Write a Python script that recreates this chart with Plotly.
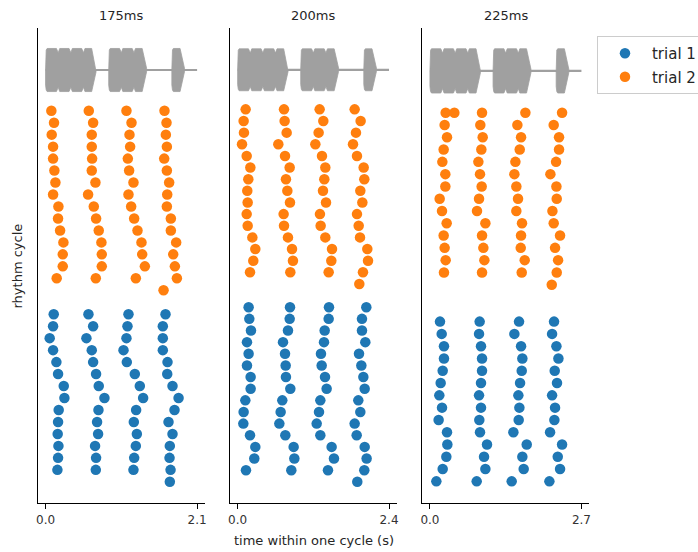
import plotly.graph_objects as go

# ---------------- data ----------------
periods = [2.1, 2.4, 2.7]                # cycle length (s)
titles = ["175ms", "200ms", "225ms"]
tick_labels = [["0.0", "2.1"], ["0.0", "2.4"], ["0.0", "2.7"]]
n_slots = 12
note_slots = [0, 1, 2, 3, 5, 6, 7, 10]   # slots containing a sound
trial1_row_offset = 17                   # trial 1 rows start below trial 2 rows

# tap times (s) within a cycle; each list = one tap column, index = cycle row
t2_175 = [
    [0.080, 0.117, 0.085, 0.104, 0.104, 0.122, 0.136, 0.104, 0.178, 0.173, 0.201, 0.247, 0.238, 0.238, 0.154],
    [0.599, 0.659, 0.640, 0.640, 0.645, 0.640, 0.691, 0.589, 0.668, 0.700, 0.737, 0.774, 0.779, 0.779, 0.696],
    [1.121, 1.191, 1.163, 1.172, 1.140, 1.158, 1.218, 1.149, 1.186, 1.228, 1.274, 1.329, 1.339, 1.376, 1.251],
    [1.648, 1.676, 1.667, 1.681, 1.644, 1.681, 1.713, 1.686, 1.681, 1.736, 1.736, 1.810, 1.769, 1.792, 1.820, 1.635],
]
t1_175 = [
    [0.113, 0.104, 0.057, 0.104, 0.150, 0.173, 0.252, 0.261, 0.182, 0.173, 0.168, 0.178, 0.173, 0.164],
    [0.594, 0.659, 0.566, 0.640, 0.659, 0.700, 0.737, 0.816, 0.733, 0.714, 0.728, 0.686, 0.700, 0.696],
    [1.149, 1.135, 1.121, 1.080, 1.126, 1.237, 1.306, 1.352, 1.255, 1.223, 1.265, 1.251, 1.228, 1.218],
    [1.662, 1.625, 1.625, 1.625, 1.690, 1.686, 1.759, 1.843, 1.787, 1.704, 1.759, 1.722, 1.718, 1.732, 1.722],
]
t2_200 = [
    [0.127, 0.095, 0.100, 0.069, 0.143, 0.201, 0.169, 0.153, 0.159, 0.143, 0.159, 0.233, 0.280, 0.248, 0.196],
    [0.735, 0.745, 0.777, 0.645, 0.751, 0.825, 0.766, 0.788, 0.830, 0.729, 0.735, 0.798, 0.862, 0.877, 0.835],
    [1.300, 1.358, 1.284, 1.232, 1.337, 1.390, 1.374, 1.353, 1.401, 1.305, 1.316, 1.390, 1.496, 1.485, 1.443],
    [1.855, 1.950, 1.876, 1.829, 1.892, 1.998, 2.008, 1.945, 1.977, 1.892, 1.919, 1.940, 2.056, 2.067, 1.987, 1.929],
]
t1_200 = [
    [0.174, 0.185, 0.211, 0.148, 0.174, 0.148, 0.206, 0.206, 0.122, 0.095, 0.090, 0.196, 0.280, 0.264, 0.132],
    [0.830, 0.825, 0.798, 0.719, 0.751, 0.761, 0.766, 0.835, 0.708, 0.682, 0.661, 0.756, 0.888, 0.899, 0.851],
    [1.448, 1.443, 1.380, 1.369, 1.321, 1.332, 1.385, 1.411, 1.311, 1.290, 1.253, 1.311, 1.490, 1.527, 1.432],
    [2.040, 1.971, 1.971, 2.024, 1.924, 1.961, 1.993, 2.014, 1.913, 1.945, 1.855, 1.887, 2.014, 2.045, 2.008, 1.897],
]
t2_225 = [
    [0.280, 0.262, 0.304, 0.244, 0.221, 0.274, 0.274, 0.173, 0.215, 0.298, 0.244, 0.262, 0.280, 0.250],
    [0.928, 0.898, 0.940, 0.916, 0.863, 0.892, 0.922, 0.875, 0.839, 0.988, 0.928, 0.952, 0.970, 0.928],
    [1.701, 1.558, 1.624, 1.600, 1.523, 1.505, 1.540, 1.570, 1.540, 1.641, 1.624, 1.618, 1.689, 1.636],
    [2.355, 2.206, 2.301, 2.301, 2.248, 2.147, 2.254, 2.260, 2.183, 2.206, 2.319, 2.230, 2.284, 2.260, 2.171],
    [0.435],
]
t1_225 = [
    [0.179, 0.209, 0.250, 0.250, 0.227, 0.191, 0.167, 0.215, 0.155, 0.304, 0.310, 0.292, 0.227, 0.114],
    [0.886, 0.875, 0.910, 0.928, 0.928, 0.910, 0.875, 0.910, 0.880, 0.892, 1.017, 0.964, 0.988, 0.833],
    [1.588, 1.505, 1.624, 1.647, 1.636, 1.606, 1.576, 1.594, 1.582, 1.487, 1.725, 1.647, 1.671, 1.457],
    [2.212, 2.177, 2.254, 2.290, 2.224, 2.265, 2.177, 2.230, 2.218, 2.141, 2.355, 2.278, 2.319, 2.129],
]
trial1 = [t1_175, t1_200, t1_225]
trial2 = [t2_175, t2_200, t2_225]

# ---------------- style ----------------
BLUE = "#1f77b4"
ORANGE = "#ff7f0e"
GRAY = "#a0a0a0"
TXT = "#262626"
FONT = "DejaVu Sans"
wave_center = -3.4
wave_amp = 1.8
y_ranges = [[32.77, -6.91], [33.82, -6.99], [31.76, -6.89]]
x_domains = [[0.0, 0.3025], [0.3486, 0.6508], [0.6976, 1.0]]


def columns_to_xy(cols, offset):
    xs, ys = [], []
    for col in cols:
        for r, v in enumerate(col):
            xs.append(v)
            ys.append(r + offset)
    return xs, ys


def slot_groups(slots):
    groups = []
    for s in sorted(slots):
        if groups and s == groups[-1][-1] + 1:
            groups[-1].append(s)
        else:
            groups.append([s])
    return groups


def group_outline(group, dt):
    top = []
    n = len(group)
    for j, s in enumerate(group):
        t0 = s * dt
        first, last = j == 0, j == n - 1
        if first:
            prof = [(0.0, 0.0), (0.0, 0.7), (0.05, 0.93), (0.12, 1.0)]
        else:
            prof = [(0.0, 0.8), (0.12, 1.0)]
        if last:
            prof += [(0.65, 1.0), (1.0, 0.08), (1.0, 0.0)]
        else:
            prof += [(0.86, 1.0), (1.0, 0.8)]
        top += [(t0 + u * dt, a) for u, a in prof]
    xs = [p[0] for p in top] + [p[0] for p in reversed(top)]
    ys = [wave_center - a * wave_amp for _, a in top] + \
         [wave_center + a * wave_amp for _, a in reversed(top)]
    return xs, ys


fig = go.Figure()

for i, T in enumerate(periods):
    xa = "x" if i == 0 else f"x{i+1}"
    ya = "y" if i == 0 else f"y{i+1}"
    dt = T / n_slots
    # silence line
    fig.add_trace(go.Scatter(x=[0, T], y=[wave_center, wave_center], mode="lines",
                             line=dict(color=GRAY, width=2.2), xaxis=xa, yaxis=ya,
                             showlegend=False, hoverinfo="skip"))
    for g in slot_groups(note_slots):
        gx, gy = group_outline(g, dt)
        fig.add_trace(go.Scatter(x=gx, y=gy, mode="lines", fill="toself",
                                 fillcolor=GRAY, line=dict(color=GRAY, width=0.8),
                                 xaxis=xa, yaxis=ya, showlegend=False, hoverinfo="skip"))
    bx, by = columns_to_xy(trial1[i], trial1_row_offset)
    fig.add_trace(go.Scatter(x=bx, y=by, mode="markers", name="trial 1",
                             marker=dict(color=BLUE, size=10.5, line=dict(width=0)),
                             xaxis=xa, yaxis=ya, showlegend=(i == 0), legendgroup="t1"))
    ox, oy = columns_to_xy(trial2[i], 0)
    fig.add_trace(go.Scatter(x=ox, y=oy, mode="markers", name="trial 2",
                             marker=dict(color=ORANGE, size=10.5, line=dict(width=0)),
                             xaxis=xa, yaxis=ya, showlegend=(i == 0), legendgroup="t2"))

layout = dict(
    width=698, height=552,
    paper_bgcolor="white", plot_bgcolor="white",
    margin=dict(l=38, r=109, t=28, b=49, autoexpand=False),
    font=dict(family=FONT, color=TXT, size=12),
    showlegend=True,
    legend=dict(x=1.0145, y=0.983, xanchor="left", yanchor="top",
                bgcolor="white", bordercolor="#cccccc", borderwidth=1,
                font=dict(size=15, color=TXT, family=FONT), itemwidth=44,
                tracegroupgap=1),
    annotations=[],
)
for i, T in enumerate(periods):
    xk = "xaxis" if i == 0 else f"xaxis{i+1}"
    yk = "yaxis" if i == 0 else f"yaxis{i+1}"
    ya = "y" if i == 0 else f"y{i+1}"
    xa = "x" if i == 0 else f"x{i+1}"
    layout[xk] = dict(domain=x_domains[i], anchor=ya, range=[-0.05 * T, 1.05 * T],
                      tickvals=[0, T], ticktext=tick_labels[i],
                      showline=True, linecolor="black", linewidth=1.3,
                      ticks="outside", ticklen=5, tickwidth=1.2, tickcolor="black",
                      tickfont=dict(size=12, color="#333333"),
                      showgrid=False, zeroline=False, fixedrange=True)
    layout[yk] = dict(domain=[0, 1], anchor=xa, range=y_ranges[i],
                      showline=True, linecolor="black", linewidth=1.3,
                      showticklabels=False, ticks="", showgrid=False, zeroline=False)
    cx = (x_domains[i][0] + x_domains[i][1]) / 2
    layout["annotations"].append(dict(text=titles[i], x=cx, y=1.027, xref="paper", yref="paper",
                                      xanchor="center", yanchor="middle", showarrow=False,
                                      font=dict(size=13, color=TXT)))

layout["annotations"].append(dict(text="time within one cycle (s)", x=0.5, y=-0.078,
                                  xref="paper", yref="paper", xanchor="center", yanchor="middle",
                                  showarrow=False, font=dict(size=13, color=TXT)))
layout["annotations"].append(dict(text="rhythm cycle", x=-0.0363, y=0.5, xref="paper", yref="paper",
                                  xanchor="center", yanchor="middle", textangle=-90,
                                  showarrow=False, font=dict(size=13, color=TXT)))
fig.update_layout(**layout)

fig.write_html("out.html", config={"displayModeBar": False},
               post_script="document.body.style.margin='0';document.body.style.padding='0';")
